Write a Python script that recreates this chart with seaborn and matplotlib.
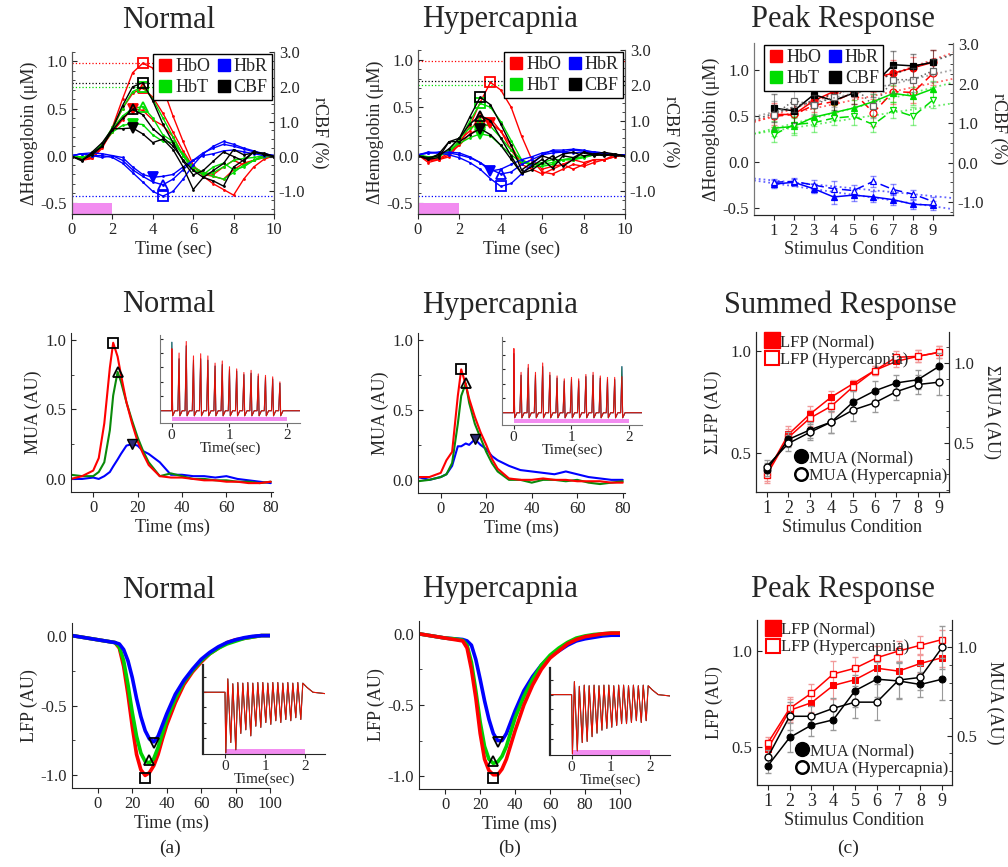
import numpy as np
import matplotlib
matplotlib.use("Agg")
import matplotlib.pyplot as plt
from matplotlib.lines import Line2D
from matplotlib.ticker import MultipleLocator, FormatStrFormatter
import seaborn as sns

sns.set_style("ticks")
plt.rcParams["font.family"] = ["Liberation Serif", "DejaVu Serif"]
plt.rcParams["axes.unicode_minus"] = False
plt.rcParams["xtick.labelsize"] = 12
plt.rcParams["ytick.labelsize"] = 12
plt.rcParams["axes.labelsize"] = 13
plt.rcParams["xtick.major.pad"] = 2
plt.rcParams["axes.labelpad"] = 2

RED, GREEN, BLUE, BLACK = "#ff0000", "#00dd00", "#0000ff", "#000000"
DKGREEN, MAGENTA = "#0a8a0a", "#f28cf0"

# ---------------- hemodynamic time courses (row 1) ----------------
t_hemo = [0.0, 0.5, 1.0, 1.5, 2.0, 2.5, 3.0, 3.5, 4.0, 4.5, 5.0,
          5.5, 6.0, 6.5, 7.0, 7.5, 8.0, 8.5, 9.0, 9.5, 10.0]

nrm_hbo = [[0, -0.05, -0.03, 0.1, 0.3, 0.6, 0.88, 0.98, 0.93, 0.72, 0.42, 0.15, -0.1, -0.22, -0.3, -0.36, -0.42, -0.25, -0.12, -0.04, 0],
           [0, -0.04, -0.03, 0.08, 0.28, 0.5, 0.66, 0.72, 0.62, 0.45, 0.25, 0.05, -0.12, -0.2, -0.22, -0.25, -0.15, -0.08, -0.05, -0.02, 0],
           [0, -0.03, -0.02, 0.1, 0.25, 0.38, 0.5, 0.48, 0.38, 0.32, 0.2, 0.0, -0.12, -0.18, -0.2, -0.12, -0.05, -0.1, -0.05, 0.0, 0]]
nrm_hbt = [[0, -0.02, 0.02, 0.12, 0.3, 0.5, 0.68, 0.73, 0.6, 0.4, 0.2, 0.0, -0.15, -0.2, -0.18, -0.12, -0.05, -0.03, -0.02, 0.0, 0],
           [0, -0.02, 0.02, 0.12, 0.28, 0.42, 0.5, 0.52, 0.4, 0.22, 0.15, 0.0, -0.15, -0.2, -0.12, -0.08, -0.15, -0.12, -0.05, -0.02, 0],
           [0, -0.02, 0.0, 0.12, 0.25, 0.32, 0.34, 0.33, 0.22, 0.15, 0.14, 0.02, -0.12, -0.18, -0.22, -0.25, -0.18, -0.1, -0.05, 0.0, 0]]
nrm_hbr = [[0, 0.02, 0.0, 0.0, -0.02, -0.08, -0.18, -0.28, -0.38, -0.43, -0.38, -0.25, -0.1, 0.02, 0.1, 0.15, 0.12, 0.08, 0.05, 0.02, 0],
           [0, 0.02, 0.03, 0.02, 0.0, -0.05, -0.15, -0.22, -0.28, -0.31, -0.25, -0.15, -0.05, 0.03, 0.08, 0.12, 0.1, 0.07, 0.04, 0.02, 0],
           [0, 0.02, 0.0, -0.02, 0.0, -0.02, -0.12, -0.2, -0.23, -0.22, -0.2, -0.12, -0.05, 0.0, 0.02, 0.05, 0.06, 0.04, 0.02, 0.0, 0]]
nrm_cbf = [[0, -0.13, 0.13, 0.4, 0.8, 1.46, 2.0, 2.12, 1.6, 0.93, 0.4, -0.13, -0.53, -0.4, -0.13, 0.13, 0.0, -0.13, 0.13, 0.08, 0],
           [0, -0.1, 0.1, 0.3, 0.75, 1.1, 1.35, 1.2, 0.8, 0.55, 0.3, -0.1, -0.4, -0.6, -0.4, -0.2, 0.2, 0.05, 0.1, 0.1, 0],
           [0, -0.1, 0.05, 0.3, 0.8, 0.8, 0.82, 0.65, 0.4, 0.5, 0.2, -0.3, -0.95, -0.6, -0.7, -0.85, -0.3, -0.1, 0.15, 0.05, 0]]

hyp_hbo = [[0, -0.08, -0.05, -0.02, 0.12, 0.3, 0.55, 0.76, 0.68, 0.5, 0.2, -0.05, -0.18, -0.2, -0.15, -0.1, -0.12, -0.08, -0.05, -0.02, 0],
           [0, -0.06, -0.05, 0.0, 0.15, 0.25, 0.4, 0.38, 0.25, 0.05, -0.1, -0.15, -0.2, -0.15, -0.1, -0.15, -0.1, -0.05, -0.05, -0.02, 0],
           [0, -0.05, -0.04, 0.02, 0.1, 0.22, 0.28, 0.33, 0.25, 0.1, -0.1, -0.05, -0.15, -0.12, -0.1, -0.05, -0.08, -0.05, -0.05, 0.0, 0]]
hyp_hbt = [[0, -0.03, 0.0, 0.02, 0.15, 0.35, 0.54, 0.5, 0.35, 0.15, -0.05, -0.12, -0.12, -0.1, -0.05, -0.05, -0.03, 0.0, 0.02, 0.0, 0],
           [0, -0.03, -0.02, 0.05, 0.18, 0.28, 0.33, 0.3, 0.18, 0.05, -0.05, -0.1, -0.1, -0.08, -0.05, -0.05, -0.02, 0.0, 0.0, 0.0, 0],
           [0, -0.02, -0.02, 0.05, 0.12, 0.18, 0.22, 0.2, 0.1, 0.0, -0.08, -0.1, -0.08, -0.05, -0.05, -0.03, -0.02, 0.0, 0.0, 0.0, 0]]
hyp_hbr = [[0, 0.03, 0.02, 0.0, -0.03, -0.08, -0.15, -0.25, -0.33, -0.3, -0.2, -0.1, 0.0, 0.05, 0.05, 0.06, 0.05, 0.03, 0.02, 0.0, 0],
           [0, 0.02, 0.03, 0.02, 0.0, -0.03, -0.08, -0.15, -0.2, -0.18, -0.1, -0.05, 0.0, 0.02, 0.03, 0.05, 0.04, 0.03, 0.02, 0.0, 0],
           [0, 0.02, 0.02, 0.03, 0.02, -0.02, -0.08, -0.17, -0.15, -0.1, -0.05, -0.02, 0.02, 0.04, 0.03, 0.02, 0.03, 0.02, 0.01, 0.0, 0]]
hyp_cbf = [[0, -0.1, -0.05, 0.4, 0.5, 1.1, 1.66, 1.45, 0.9, 0.3, -0.4, -0.2, 0.0, -0.1, 0.05, 0.1, 0.0, 0.05, 0.1, 0.05, 0],
           [0, -0.05, 0.0, 0.2, 0.5, 0.9, 1.14, 1.0, 0.5, 0.0, -0.5, -0.3, -0.1, -0.35, 0.0, -0.05, 0.1, 0.0, 0.05, 0.0, 0],
           [0, -0.1, 0.05, 0.4, 0.4, 0.6, 0.77, 0.6, 0.3, -0.1, -0.5, -0.4, -0.2, 0.0, -0.3, -0.1, 0.1, 0.05, 0.0, 0.05, 0]]

# ---------------- peak hemodynamic response vs stimulus ----------------
stim = [1, 2, 3, 4, 5, 6, 7, 8, 9]
pk_hbo_n = [0.52, 0.52, 0.67, 0.77, 0.84, 0.92, 0.97, 1.03, 1.09]
pk_hbo_h = [0.50, 0.52, 0.62, 0.66, 0.76, 0.54, 0.77, 0.76, 0.97]
pk_hbt_n = [0.37, 0.39, 0.49, 0.54, 0.59, 0.66, 0.75, 0.72, 0.80]
pk_hbt_h = [0.30, 0.41, 0.43, 0.48, 0.50, 0.41, 0.57, 0.50, 0.68]
pk_hbr_n = [-0.24, -0.22, -0.29, -0.38, -0.36, -0.38, -0.41, -0.46, -0.47]
pk_hbr_h = [-0.22, -0.21, -0.25, -0.29, -0.31, -0.21, -0.30, -0.35, -0.43]
pk_cbf_n = [1.38, 1.31, 1.72, 1.57, 1.76, 1.97, 2.48, 2.45, 2.54]
pk_cbf_h = [1.21, 1.57, 1.46, 1.66, 1.94, 1.44, 2.10, 2.10, 2.33]
pk_err_hbo = [0.12, 0.14, 0.12, 0.12, 0.13, 0.15, 0.14, 0.12, 0.13]
pk_err_hbt = [0.08, 0.09, 0.10, 0.08, 0.09, 0.08, 0.09, 0.10, 0.09]
pk_err_hbr = [0.04, 0.04, 0.05, 0.08, 0.06, 0.06, 0.06, 0.05, 0.05]
pk_err_cbf = [0.35, 0.30, 0.25, 0.25, 0.28, 0.30, 0.35, 0.30, 0.30]

# ---------------- MUA time courses (row 2) ----------------
t_mua = [-10, -5, 0, 2.5, 5, 7.5, 9, 11, 12.5, 15, 17.5, 20, 22.5, 25,
         30, 35, 40, 45, 50, 55, 60, 65, 70, 75, 80]
nrm_mua_r = [0.0, 0.02, 0.06, 0.15, 0.4, 0.8, 0.98, 0.88, 0.75, 0.55, 0.4, 0.27, 0.18, 0.1,
             0.02, 0.01, 0.01, 0.0, -0.01, -0.01, -0.02, -0.02, -0.03, -0.03, -0.02]
nrm_mua_g = [0.03, 0.02, 0.02, 0.05, 0.12, 0.35, 0.6, 0.77, 0.7, 0.55, 0.42, 0.3, 0.2, 0.12,
             0.02, 0.04, 0.02, 0.0, 0.0, -0.01, -0.01, -0.02, -0.02, -0.03, -0.02]
nrm_mua_b = [0.0, 0.0, 0.01, 0.0, 0.02, 0.05, 0.09, 0.14, 0.18, 0.24, 0.25, 0.24, 0.2, 0.18,
             0.12, 0.03, 0.03, 0.02, 0.02, 0.01, 0.02, 0.0, -0.01, -0.02, -0.03]
hyp_mua_r = [0.02, 0.02, 0.05, 0.14, 0.2, 0.6, 0.79, 0.68, 0.58, 0.45, 0.34, 0.25, 0.15, 0.08,
             0.01, 0.0, 0.0, 0.01, 0.0, 0.0, -0.01, -0.01, -0.01, -0.02, -0.02]
hyp_mua_g = [-0.01, 0.0, 0.02, 0.04, 0.12, 0.4, 0.6, 0.69, 0.55, 0.4, 0.3, 0.2, 0.12, 0.06,
             0.0, 0.0, -0.02, 0.0, 0.0, -0.01, 0.0, -0.02, -0.03, -0.02, -0.01]
hyp_mua_b = [0.02, 0.0, 0.02, 0.04, 0.1, 0.24, 0.24, 0.26, 0.25, 0.29, 0.25, 0.22, 0.17, 0.14,
             0.1, 0.07, 0.06, 0.05, 0.04, 0.06, 0.04, 0.02, 0.01, 0.0, 0.0]

# stimulus pulse train used in the insets
pulse_t = [0.0, 0.125, 0.25, 0.375, 0.5, 0.625, 0.75, 0.875,
           1.0, 1.125, 1.25, 1.375, 1.5, 1.625, 1.75, 1.875]
nrm_mua_amp = [0.86, 0.8, 0.96, 0.76, 0.79, 0.76, 0.66, 0.69, 0.61, 0.58, 0.53, 0.56, 0.51, 0.49, 0.47, 0.4]
nrm_mua_amp_g = [0.95, 0.72, 0.9, 0.7, 0.72, 0.7, 0.62, 0.64, 0.57, 0.55, 0.5, 0.52, 0.48, 0.46, 0.44, 0.38]
hyp_mua_amp = [0.89, 0.56, 0.67, 0.56, 0.69, 0.56, 0.51, 0.47, 0.49, 0.47, 0.53, 0.56, 0.51, 0.49, 0.49, 0.5]
hyp_mua_amp_g = [0.82, 0.52, 0.62, 0.52, 0.64, 0.52, 0.48, 0.44, 0.46, 0.44, 0.5, 0.52, 0.48, 0.46, 0.46, 0.64]

# ---------------- LFP time courses (row 3) ----------------
t_lfp = [-15, -10, -5, 0, 5, 10, 12.5, 15, 17.5, 20, 22.5, 25, 27.5, 30, 32.5, 35, 37.5,
         40, 45, 50, 55, 60, 65, 70, 75, 80, 85, 90, 95, 100]
nrm_lfp_b = [0.0, -0.01, -0.02, -0.03, -0.04, -0.05, -0.06, -0.1, -0.18, -0.3, -0.45, -0.58, -0.68, -0.74, -0.76, -0.72, -0.64,
             -0.56, -0.42, -0.32, -0.24, -0.17, -0.12, -0.08, -0.05, -0.03, -0.015, -0.005, 0.0, 0.0]
nrm_lfp_g = [0.0, -0.01, -0.02, -0.03, -0.04, -0.05, -0.08, -0.18, -0.35, -0.55, -0.72, -0.84, -0.9, -0.91, -0.88, -0.8, -0.7,
             -0.6, -0.45, -0.33, -0.25, -0.18, -0.13, -0.09, -0.06, -0.04, -0.02, -0.01, 0.0, 0.0]
nrm_lfp_r = [0.0, -0.01, -0.02, -0.03, -0.04, -0.05, -0.09, -0.22, -0.42, -0.65, -0.85, -0.96, -1.0, -0.98, -0.93, -0.85, -0.74,
             -0.64, -0.48, -0.35, -0.26, -0.19, -0.13, -0.09, -0.05, -0.03, -0.02, -0.01, 0.0, 0.0]
hyp_lfp_b = [0.0, -0.01, -0.02, -0.03, -0.035, -0.04, -0.05, -0.08, -0.18, -0.32, -0.47, -0.6, -0.7, -0.75, -0.75, -0.7, -0.62,
             -0.54, -0.4, -0.3, -0.22, -0.16, -0.12, -0.08, -0.05, -0.035, -0.025, -0.015, -0.01, -0.01]
hyp_lfp_g = [0.0, -0.01, -0.02, -0.03, -0.035, -0.045, -0.08, -0.2, -0.4, -0.62, -0.79, -0.88, -0.91, -0.9, -0.86, -0.79, -0.69,
             -0.59, -0.44, -0.32, -0.22, -0.15, -0.1, -0.06, -0.03, -0.015, -0.005, 0.0, 0.005, 0.005]
hyp_lfp_r = [0.0, -0.01, -0.02, -0.03, -0.04, -0.05, -0.1, -0.25, -0.45, -0.7, -0.88, -0.96, -0.99, -0.99, -0.95, -0.88, -0.78,
             -0.68, -0.5, -0.36, -0.25, -0.17, -0.12, -0.07, -0.04, -0.02, -0.01, 0.0, 0.005, 0.005]
nrm_lfp_depth = [-1.0, -0.83, -0.95, -0.68, -0.62, -0.72, -0.56, -0.58, -0.5, -0.53, -0.47, -0.5, -0.45, -0.47, -0.42, -0.45]
hyp_lfp_depth = [-1.0, -0.95, -0.81, -0.79, -0.71, -0.65, -0.6, -0.57, -0.55, -0.52, -0.49, -0.49, -0.47, -0.44, -0.47, -0.44]
lfp_rebound = [0.22, 0.14, 0.16, 0.15, 0.16, 0.15, 0.16, 0.16, 0.15, 0.16, 0.16, 0.15, 0.16, 0.15, 0.16, 0.15]

# ---------------- summed / peak electrophysiology ----------------
sum_lfp_n = [0.40, 0.59, 0.69, 0.775, 0.84, 0.905, 0.95, 0.975, 0.995]
sum_lfp_h = [0.39, 0.575, 0.67, 0.73, 0.825, 0.905, 0.97, 0.975, 0.995]
sum_lfp_e = [0.04, 0.04, 0.04, 0.03, 0.02, 0.02, 0.03, 0.03, 0.03]
sum_mua_n = [0.33, 0.52, 0.58, 0.63, 0.755, 0.825, 0.875, 0.895, 0.98]
sum_mua_h = [0.35, 0.495, 0.565, 0.63, 0.705, 0.75, 0.82, 0.865, 0.88]
sum_mua_e = [0.04, 0.05, 0.05, 0.07, 0.07, 0.06, 0.05, 0.06, 0.08]
pk2_lfp_n = [0.49, 0.69, 0.73, 0.82, 0.85, 0.91, 0.895, 0.935, 0.965]
pk2_lfp_h = [0.52, 0.70, 0.78, 0.88, 0.91, 0.965, 1.0, 1.03, 1.06]
pk2_lfp_e = [0.03, 0.06, 0.05, 0.07, 0.06, 0.06, 0.05, 0.05, 0.05]
pk2_mua_n = [0.33, 0.49, 0.56, 0.59, 0.755, 0.82, 0.81, 0.79, 0.82]
pk2_mua_h = [0.38, 0.61, 0.61, 0.655, 0.69, 0.69, 0.815, 0.83, 1.0]
pk2_mua_e = [0.04, 0.08, 0.06, 0.06, 0.09, 0.1, 0.1, 0.07, 0.12]

W, H = 1008, 867
fig = plt.figure(figsize=(W / 100, H / 100), dpi=100)


def box(l, t, r, b):
    return [l / W, 1 - b / H, (r - l) / W, (b - t) / H]


def title(x, y, s):
    fig.text(x / W, 1 - y / H, s, ha="center", va="center", fontsize=22)


def peak_marks(ax, x, curves, color, find, edge=None):
    # square / triangle / down-triangle at each curve's extremum
    shapes = [("s", "none"), ("^", "none"), ("v", color)]
    for y, (m, fc) in zip(curves, shapes):
        i = int(find(y))
        ax.plot(x[i], y[i], marker=m, ms=7, mfc=fc, mec=edge or color, mew=1.3, zorder=5)


def hemo_panel(rect, hbo, hbt, hbr, cbf):
    ax = fig.add_axes(box(*rect))
    ax2 = ax.twinx()
    ax.set_xlim(0, 10)
    ax.set_ylim(-0.62, 1.1)
    ax2.set_ylim(-1.65, 3.0)
    # dotted reference levels = peaks of the Normal condition
    ax.axhline(np.max(nrm_hbo), color=RED, ls=":", lw=0.9)
    ax.axhline(np.max(nrm_hbt), color=GREEN, ls=":", lw=0.9)
    ax.axhline(np.min(nrm_hbr), color=BLUE, ls=":", lw=0.9)
    ax2.axhline(np.max(nrm_cbf), color=BLACK, ls=":", lw=0.9)
    ax.axvspan(0, 2, ymin=0, ymax=0.065, color=MAGENTA, lw=0)
    for a, curves, c, find in [(ax, hbo, RED, np.argmax), (ax, hbt, GREEN, np.argmax),
                               (ax, hbr, BLUE, np.argmin), (ax2, cbf, BLACK, np.argmax)]:
        for y in curves:
            sns.lineplot(x=t_hemo, y=y, ax=a, color=c, linewidth=1.0, marker="o", markersize=2,
                         markeredgecolor=c, markeredgewidth=0, legend=False)
        peak_marks(a, t_hemo, curves, c, find)
    ax.set_xticks([0, 2, 4, 6, 8, 10])
    ax.set_yticks([-0.5, 0.0, 0.5, 1.0])
    ax.yaxis.set_minor_locator(MultipleLocator(0.1))
    ax.yaxis.set_major_formatter(FormatStrFormatter("%.1f"))
    ax2.set_yticks([-1.0, 0.0, 1.0, 2.0, 3.0])
    ax2.yaxis.set_minor_locator(MultipleLocator(0.25))
    ax2.yaxis.set_major_formatter(FormatStrFormatter("%.1f"))
    ax.tick_params(axis="y", which="both", direction="in")
    ax2.tick_params(axis="y", which="both", direction="in")
    for a in (ax, ax2):
        a.spines["top"].set_visible(False)
        a.spines["left"].set_color("#555555")
        a.spines["right"].set_color("#555555")
    ax.set_xlabel("Time (sec)")
    ax.set_ylabel("ΔHemoglobin (μM)", labelpad=2)
    ax2.set_ylabel("rCBF (%)", rotation=270, va="bottom", labelpad=4)
    handles = [Line2D([], [], ls="none", marker="s", ms=8, color=c) for c in (RED, GREEN, BLUE, BLACK)]
    ax2.legend(handles, ["HbO", "HbT", "HbR", "CBF"], ncol=2, loc="upper right",
               bbox_to_anchor=(1.0, 1.0), fontsize=13, frameon=True, fancybox=False,
               edgecolor="black", framealpha=1, handletextpad=0.1, handlelength=0.9,
               columnspacing=0.3, borderpad=0.25, labelspacing=0.2, borderaxespad=0.1)
    return ax


def spike_trace(amps, base, tail):
    # pulse train built from the stimulus times and the read-off peak heights
    xs, ys = [-0.6, 0.0], [base, base]
    for t, a in zip(pulse_t, amps):
        xs += [t + 0.006, t + 0.02, t + 0.06, t + 0.11]
        ys += [a, tail, base, base]
    xs += [2.05, 2.6]
    ys += [base, base]
    return xs, ys


def mua_panel(rect, in_rect, r, g, b, amp_r, amp_g):
    ax = fig.add_axes(box(*rect))
    for y, c in [(b, BLUE), (g, DKGREEN), (r, RED)]:
        sns.lineplot(x=t_mua, y=y, ax=ax, color=c, linewidth=1.5, legend=False)
    ax.plot(t_mua[int(np.argmax(r))], max(r), "s", ms=7, mfc="none", mec="k", mew=1.3)
    ax.plot(t_mua[int(np.argmax(g))], max(g), "^", ms=7, mfc="none", mec="k", mew=1.3)
    ax.plot(t_mua[int(np.argmax(b))], max(b), "v", ms=7, mfc="#2a2a70", mec="k", mew=1.0)
    ax.set_xlim(-10, 81)
    ax.set_ylim(-0.094, 1.05)
    ax.set_xticks([0, 20, 40, 60, 80])
    ax.set_yticks([0.0, 0.5, 1.0])
    ax.yaxis.set_minor_locator(MultipleLocator(0.25))
    ax.yaxis.set_major_formatter(FormatStrFormatter("%.1f"))
    ax.tick_params(axis="y", which="both", direction="in")
    sns.despine(ax=ax)
    ax.set_xlabel("Time (ms)")
    ax.set_ylabel("MUA (AU)")

    axi = fig.add_axes(box(*in_rect))
    for amps, c, lw in [(amp_g, BLUE, 0.7), (amp_g, DKGREEN, 0.7), (amp_r, RED, 0.8)]:
        xs, ys = spike_trace(amps, 0.0, -0.07)
        axi.plot(xs, ys, color=c, lw=lw, alpha=0.85)
    axi.axvspan(0, 2, ymin=0.02, ymax=0.07, color=MAGENTA, lw=0)
    axi.set_xlim(-0.2, 2.23)
    axi.set_ylim(-0.17, 1.05)
    axi.set_xticks([0, 1, 2])
    axi.set_yticks([0.2, 0.4, 0.6, 0.8, 1.0])
    axi.set_yticklabels([])
    axi.tick_params(axis="x", labelsize=11, pad=1, length=3)
    axi.tick_params(axis="y", direction="in", length=2)
    sns.despine(ax=axi)
    for s in ("left", "bottom"):
        axi.spines[s].set_color("#777777")
    axi.set_xlabel("Time(sec)", fontsize=11, labelpad=0)


def lfp_panel(rect, in_rect, r, g, b, depth, order):
    ax = fig.add_axes(box(*rect))
    curves = {"r": (r, RED), "g": (g, "#00d000"), "b": (b, BLUE)}
    for k in order:
        y, c = curves[k]
        sns.lineplot(x=t_lfp, y=y, ax=ax, color=c, linewidth=2.6, legend=False)
    ax.plot(t_lfp[int(np.argmin(r))], min(r) - 0.02, "s", ms=7, mfc="none", mec="k", mew=1.3, zorder=5)
    ax.plot(t_lfp[int(np.argmin(g))], min(g) + 0.02, "^", ms=7, mfc="none", mec="k", mew=1.3, zorder=5)
    ax.plot(t_lfp[int(np.argmin(b))], min(b) - 0.01, "v", ms=7, mfc="none", mec="k", mew=1.3, zorder=5)
    ax.set_xlim(-15, 100)
    ax.set_ylim(-1.09, 0.09)
    ax.set_xticks([0, 20, 40, 60, 80, 100])
    ax.set_yticks([-1.0, -0.5, 0.0])
    ax.yaxis.set_minor_locator(MultipleLocator(0.25))
    ax.yaxis.set_major_formatter(FormatStrFormatter("%.1f"))
    ax.tick_params(axis="y", which="both", direction="in")
    sns.despine(ax=ax)
    ax.set_xlabel("Time (ms)")
    ax.set_ylabel("LFP (AU)")

    axi = fig.add_axes(box(*in_rect))
    for c, lw in [(BLUE, 0.7), ("#00c000", 0.7), (RED, 0.8)]:
        xs, ys = [-0.6, 0.0], [0.0, 0.0]
        for t, d, top in zip(pulse_t, depth, lfp_rebound):
            xs += [t + 0.02, t + 0.07]
            ys += [d, top]
        xs += [2.05, 2.2, 2.6]
        ys += [0.08, 0.0, -0.03]
        axi.plot(xs, ys, color=c, lw=lw, alpha=0.9)
    axi.axvspan(0, 2, ymin=0.0, ymax=0.06, color=MAGENTA, lw=0)
    axi.set_xlim(-0.55, 2.5)
    axi.set_ylim(-1.02, 0.45)
    axi.set_xticks([0, 1, 2])
    axi.set_yticks([-0.75, -0.5, -0.25, 0.0, 0.25])
    axi.set_yticklabels([])
    axi.tick_params(axis="x", labelsize=11, pad=1, length=3)
    axi.tick_params(axis="y", direction="in", length=2)
    sns.despine(ax=axi)
    axi.spines["left"].set_linewidth(1.6)
    axi.set_xlabel("Time(sec)", fontsize=11, labelpad=0)


def stim_panel(rect, lfp_n, lfp_h, lfp_e, mua_n, mua_h, mua_e, ylim_l, ylim_r, ylab_l, ylab_r):
    ax = fig.add_axes(box(*rect))
    ax2 = ax.twinx()
    ax.errorbar(stim, lfp_n, yerr=lfp_e, fmt="none", ecolor="#f29a9a", elinewidth=0.8, capsize=2)
    ax.errorbar(stim, lfp_h, yerr=lfp_e, fmt="none", ecolor="#f29a9a", elinewidth=0.8, capsize=2)
    ax2.errorbar(stim, mua_n, yerr=mua_e, fmt="none", ecolor="#9a9a9a", elinewidth=0.8, capsize=2)
    ax2.errorbar(stim, mua_h, yerr=mua_e, fmt="none", ecolor="#9a9a9a", elinewidth=0.8, capsize=2)
    sns.lineplot(x=stim, y=lfp_n, ax=ax, color=RED, linewidth=1.1, marker="s", markersize=5,
                 markerfacecolor=RED, markeredgecolor=RED, legend=False)
    sns.lineplot(x=stim, y=lfp_h, ax=ax, color=RED, linewidth=1.1, marker="s", markersize=5,
                 markerfacecolor="white", markeredgecolor=RED, markeredgewidth=1, legend=False)
    sns.lineplot(x=stim, y=mua_n, ax=ax2, color=BLACK, linewidth=1.1, marker="o", markersize=5,
                 markerfacecolor=BLACK, markeredgecolor=BLACK, legend=False)
    sns.lineplot(x=stim, y=mua_h, ax=ax2, color=BLACK, linewidth=1.1, marker="o", markersize=5,
                 markerfacecolor="white", markeredgecolor=BLACK, markeredgewidth=1, legend=False)
    ax.set_xlim(0.5, 9.45)
    ax.set_ylim(*ylim_l)
    ax2.set_ylim(*ylim_r)
    ax.set_xticks(stim)
    ax.set_yticks([0.5, 1.0])
    ax2.set_yticks([0.5, 1.0])
    ax2.yaxis.set_minor_locator(MultipleLocator(0.1))
    ax.yaxis.set_major_formatter(FormatStrFormatter("%.1f"))
    ax2.yaxis.set_major_formatter(FormatStrFormatter("%.1f"))
    ax.tick_params(axis="y", direction="in")
    ax2.tick_params(axis="y", which="both", direction="in")
    ax.tick_params(axis="x", labelsize=13)
    for a in (ax, ax2):
        a.spines["top"].set_visible(False)
    ax.set_xlabel("Stimulus Condition")
    ax.set_ylabel(ylab_l, labelpad=6)
    ax2.set_ylabel(ylab_r, rotation=270, va="bottom", labelpad=6)
    h_lfp = [Line2D([], [], ls="none", marker="s", ms=11, mfc=RED, mec=RED),
             Line2D([], [], ls="none", marker="s", ms=10, mfc="white", mec=RED, mew=1.5)]
    h_mua = [Line2D([], [], ls="none", marker="o", ms=10, mfc=BLACK, mec=BLACK),
             Line2D([], [], ls="none", marker="o", ms=9, mfc="white", mec=BLACK, mew=1.8)]
    leg = ax2.legend(h_lfp, ["LFP (Normal)", "LFP (Hypercapnia)"], loc="upper left",
                     bbox_to_anchor=(0.0, 1.04), frameon=False, fontsize=12,
                     handletextpad=0.05, handlelength=0.9, labelspacing=0.1, borderaxespad=0.1)
    ax2.add_artist(leg)
    ax2.legend(h_mua, ["MUA (Normal)", "MUA (Hypercapnia)"], loc="lower left",
               bbox_to_anchor=(0.15, 0.0), frameon=False, fontsize=12,
               handletextpad=0.05, handlelength=0.9, labelspacing=0.1, borderaxespad=0.1)


# ---------------- row 1 ----------------
title(169, 20, "Normal")
hemo_panel((72, 52, 274, 214), nrm_hbo, nrm_hbt, nrm_hbr, nrm_cbf)
title(500, 20, "Hypercapnia")
hemo_panel((418, 50, 625, 214), hyp_hbo, hyp_hbt, hyp_hbr, hyp_cbf)

title(843, 20, "Peak Response")
ax = fig.add_axes(box(754, 43, 953, 215))
ax2 = ax.twinx()
series = [(ax, pk_hbo_n, pk_err_hbo, RED, "o", True, "-"), (ax, pk_hbo_h, pk_err_hbo, RED, "o", False, (0, (6, 3))),
          (ax, pk_hbt_n, pk_err_hbt, GREEN, "^", True, "-"), (ax, pk_hbt_h, pk_err_hbt, GREEN, "v", False, (0, (6, 3))),
          (ax, pk_hbr_n, pk_err_hbr, BLUE, "^", True, "-"), (ax, pk_hbr_h, pk_err_hbr, BLUE, "^", False, (0, (6, 3))),
          (ax2, pk_cbf_n, pk_err_cbf, BLACK, "s", True, "-"), (ax2, pk_cbf_h, pk_err_cbf, "#666666", "s", False, ":")]
for a, y, e, c, m, filled, ls in series:
    a.errorbar(stim, y, yerr=e, fmt="none", ecolor=c, alpha=0.45, elinewidth=0.8, capsize=2)
    sns.lineplot(x=stim, y=y, ax=a, color=c, linewidth=1.1, linestyle=ls, marker=m, markersize=5,
                 markerfacecolor=c if filled else "white", markeredgecolor=c, markeredgewidth=0.9, legend=False)
    fit = np.polyfit(stim, y, 1)
    xx = np.array([0, 10])
    a.plot(xx, np.polyval(fit, xx), ls=":", color=c, lw=1.3, alpha=0.6)
ax.set_xlim(0, 10)
ax.set_ylim(-0.577, 1.30)
ax2.set_ylim(-1.33, 3.03)
ax.set_xticks(stim)
ax.set_yticks([-0.5, 0.0, 0.5, 1.0])
ax.yaxis.set_major_formatter(FormatStrFormatter("%.1f"))
ax2.set_yticks([-1.0, 0.0, 1.0, 2.0, 3.0])
ax2.yaxis.set_minor_locator(MultipleLocator(0.25))
ax2.yaxis.set_major_formatter(FormatStrFormatter("%.1f"))
ax.tick_params(axis="y", direction="in")
ax2.tick_params(axis="y", which="both", direction="in")
for a in (ax, ax2):
    a.spines["top"].set_visible(False)
    a.spines["left"].set_color("#777777")
    a.spines["right"].set_color("#777777")
ax.set_xlabel("Stimulus Condition")
ax.set_ylabel("ΔHemoglobin (μM)", labelpad=2)
ax2.set_ylabel("rCBF (%)", rotation=270, va="bottom", labelpad=4)
handles = [Line2D([], [], ls="none", marker="s", ms=8, color=c) for c in (RED, GREEN, BLUE, BLACK)]
ax2.legend(handles, ["HbO", "HbT", "HbR", "CBF"], ncol=2, loc="upper left",
           bbox_to_anchor=(0.04, 1.0), fontsize=13, frameon=True, fancybox=False,
           edgecolor="black", framealpha=1, handletextpad=0.1, handlelength=0.9,
           columnspacing=0.3, borderpad=0.25, labelspacing=0.2, borderaxespad=0.1)

# ---------------- row 2 ----------------
title(169, 305, "Normal")
mua_panel((71, 333, 273, 492), (160, 335, 300, 423), nrm_mua_r, nrm_mua_g, nrm_mua_b, nrm_mua_amp, nrm_mua_amp_g)
title(500, 305, "Hypercapnia")
mua_panel((418, 333, 625, 493), (502, 337, 642, 425), hyp_mua_r, hyp_mua_g, hyp_mua_b, hyp_mua_amp, hyp_mua_amp_g)
title(840, 305, "Summed Response")
stim_panel((756, 332, 949, 492), sum_lfp_n, sum_lfp_h, sum_lfp_e, sum_mua_n, sum_mua_h, sum_mua_e,
           (0.306, 1.095), (0.19, 1.195), "ΣLFP (AU)", "ΣMUA (AU)")

# ---------------- row 3 ----------------
title(169, 590, "Normal")
lfp_panel((72, 623, 270, 788), (203, 665, 325, 754), nrm_lfp_r, nrm_lfp_g, nrm_lfp_b, nrm_lfp_depth, "rgb")
title(500, 590, "Hypercapnia")
lfp_panel((419, 621, 620, 789), (550, 668, 670, 755), hyp_lfp_r, hyp_lfp_g, hyp_lfp_b, hyp_lfp_depth, "bgr")
title(843, 590, "Peak Response")
stim_panel((757, 620, 952, 785), pk2_lfp_n, pk2_lfp_h, pk2_lfp_e, pk2_mua_n, pk2_mua_h, pk2_mua_e,
           (0.30, 1.162), (0.221, 1.155), "LFP (AU)", "MUA (AU)")

for x, s in [(170, "(a)"), (510, "(b)"), (848, "(c)")]:
    fig.text(x / W, 1 - 848 / H, s, ha="center", va="center", fontsize=14)

fig.savefig("out.png", dpi=100, facecolor="white")
